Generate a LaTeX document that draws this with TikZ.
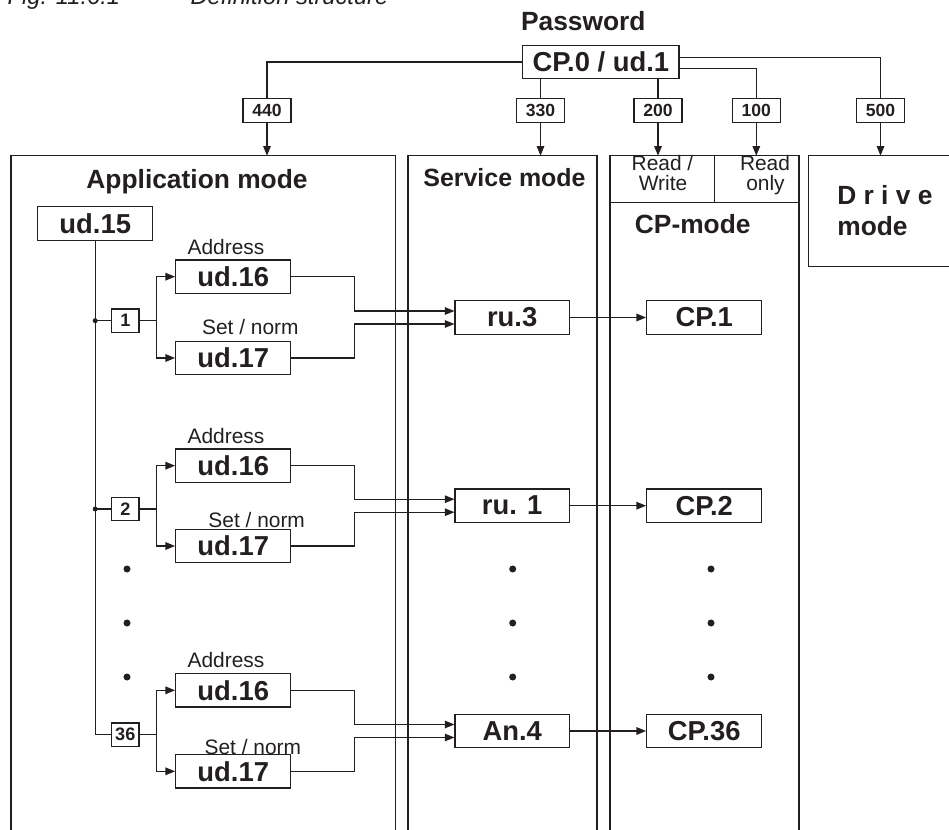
\documentclass[tikz,border=0pt]{standalone}
\usepackage{fontspec}
\setmainfont{Liberation Sans}
\usetikzlibrary{arrows.meta}
\definecolor{ink}{RGB}{35,31,32}
\tikzset{
  box/.style={draw, inner sep=0pt, minimum width=115*0.02cm, minimum height=33.5*0.02cm, font=\fontsize{15.6}{18}\selectfont\bfseries},
  lab/.style={draw, inner sep=0pt, minimum width=48*0.02cm, minimum height=24*0.02cm, font=\fontsize{10}{12}\selectfont\bfseries},
  sel/.style={draw, inner sep=0pt, minimum width=27.3*0.02cm, minimum height=23.5*0.02cm, font=\fontsize{10.3}{12}\selectfont\bfseries},
  small/.style={inner sep=0pt, anchor=base, font=\fontsize{11.9}{13}\selectfont},
  head/.style={inner sep=0pt, anchor=base, font=\fontsize{15}{18}\selectfont\bfseries},
  captxt/.style={inner sep=0pt, anchor=base west, font=\fontsize{13.5}{16}\selectfont\itshape},
  arr/.style={-{Triangle[length=5.5pt,width=4.3pt]}},
}
\begin{document}
\begin{tikzpicture}[x=0.02cm,y=-0.02cm,line width=0.7pt,color=ink]
\useasboundingbox (0,0) rectangle (949,830);
% caption (cut at top)
\node[captxt] (cap1) at (7,5) {Fig. 11.6.1};
\node[captxt] (cap2) at (190,5) {Definition structure};
% password
\node[head] (pwt) at (583.3,30.7) {Password};
\node[box, minimum width=156.3*0.02cm, minimum height=32.6*0.02cm] (pw) at (600.9,62) {CP.0 / ud.1};
% level labels
\node[lab] (l440) at (267,110.3) {440};
\node[lab] (l330) at (540.5,110.3) {330};
\node[lab] (l200) at (658,110.3) {200};
\node[lab] (l100) at (756.3,110.3) {100};
\node[lab] (l500) at (880.5,110.3) {500};
\draw (pw.west) -| (l440.north);
\draw (pw.south -| l330.north) -- (l330.north);
\draw (pw.south -| l200.north) -- (l200.north);
\draw ([yshift=0.094cm]pw.east) -| (l500.north);
\draw ([yshift=-0.126cm]pw.east) -| (l100.north);
% columns
\coordinate (appT) at (267,155.7);
\coordinate (svcT) at (540.5,155.7);
\coordinate (rwT) at (658,155.7);
\coordinate (roT) at (756.3,155.7);
\coordinate (drvT) at (880.5,155.7);
\draw (11,832) -- (11,155.7) -- (395.3,155.7) -- (395.3,832);
\draw (408,832) -- (408,155.7) -- (597,155.7) -- (597,832);
\draw (610,832) -- (610,155.7) -- (799,155.7) -- (799,832);
\draw (610,202.7) -- (799,202.7);
\draw (714.3,155.7) -- (714.3,202.7);
\draw (951,155.7) -- (808.3,155.7) -- (808.3,266.7) -- (951,266.7);
\draw[arr] (l440) -- (appT);
\draw[arr] (l330) -- (svcT);
\draw[arr] (l200) -- (rwT);
\draw[arr] (l100) -- (roT);
\draw[arr] (l500) -- (drvT);
% headers
\node[head] (happ) at (197,188.3) {Application mode};
\node[head, font=\fontsize{14.2}{17}\selectfont\bfseries] (hsvc) at (504.5,186.7) {Service mode};
\node[head, anchor=base west] (hcp) at (634.3,233.3) {CP-mode};
\node[head, anchor=base west] (hdrv1) at (836.7,205) {D r i v e};
\node[head, anchor=base west] (hdrv2) at (836.7,236) {mode};
\node[small] (rw1) at (662.5,171) {Read /};
\node[small] (rw2) at (663,191) {Write};
\node[small] (ro1) at (765,171) {Read};
\node[small] (ro2) at (765.5,191) {only};
% application tree
\node[box, minimum height=34*0.02cm] (ud15) at (95.2,223.7) {ud.15};
\foreach \i/\a/\n/\b/\m/\num/\sv/\cp/\ad/\st/\sx in {
  1/276.7/320.7/358/317.5/1/ru.3/CP.1/255/335/250.3,
  2/465.7/509/546/505.7/2/ru. 1/CP.2/443.3/527.7/256.7,
  3/690.3/734.7/771.3/731/36/An.4/CP.36/667.7/754.3/252.8}{
  \node[box] (a\i) at (233.2,\a) {ud.16};
  \node[box] (b\i) at (233.2,\b) {ud.17};
  \node[sel] (n\i) at (125.3,\n) {\num};
  \node[box, minimum width=114.3*0.02cm] (s\i) at (512.2,\m) {\sv};
  \node[box] (c\i) at (704.2,\m) {\cp};
  \node[small] (ad\i) at (226,\ad) {Address};
  \node[small] (st\i) at (\sx,\st) {Set / norm};
  \draw[arr] (n\i.east) -- ++(16.7,0) |- (a\i.west);
  \draw[arr] (n\i.east) -- ++(16.7,0) |- (b\i.west);
  \draw[arr] (a\i.east) -- ++(63.3,0) |- ([yshift=0.13cm]s\i.west);
  \draw[arr] (b\i.east) -- ++(63.3,0) |- ([yshift=-0.13cm]s\i.west);
  \draw[arr] (s\i) -- (c\i);
}
\draw (ud15.south) |- (n3.west);
\draw (ud15.south |- n1.west) -- (n1.west);
\draw (ud15.south |- n2.west) -- (n2.west);
\fill (ud15.south |- n1.west) circle (0.05cm);
\fill (ud15.south |- n2.west) circle (0.05cm);
\foreach \x in {127,512.7,711}
  \foreach \y in {569,623,677}
    \fill (\x,\y) circle (0.07cm);
\end{tikzpicture}
\end{document}
